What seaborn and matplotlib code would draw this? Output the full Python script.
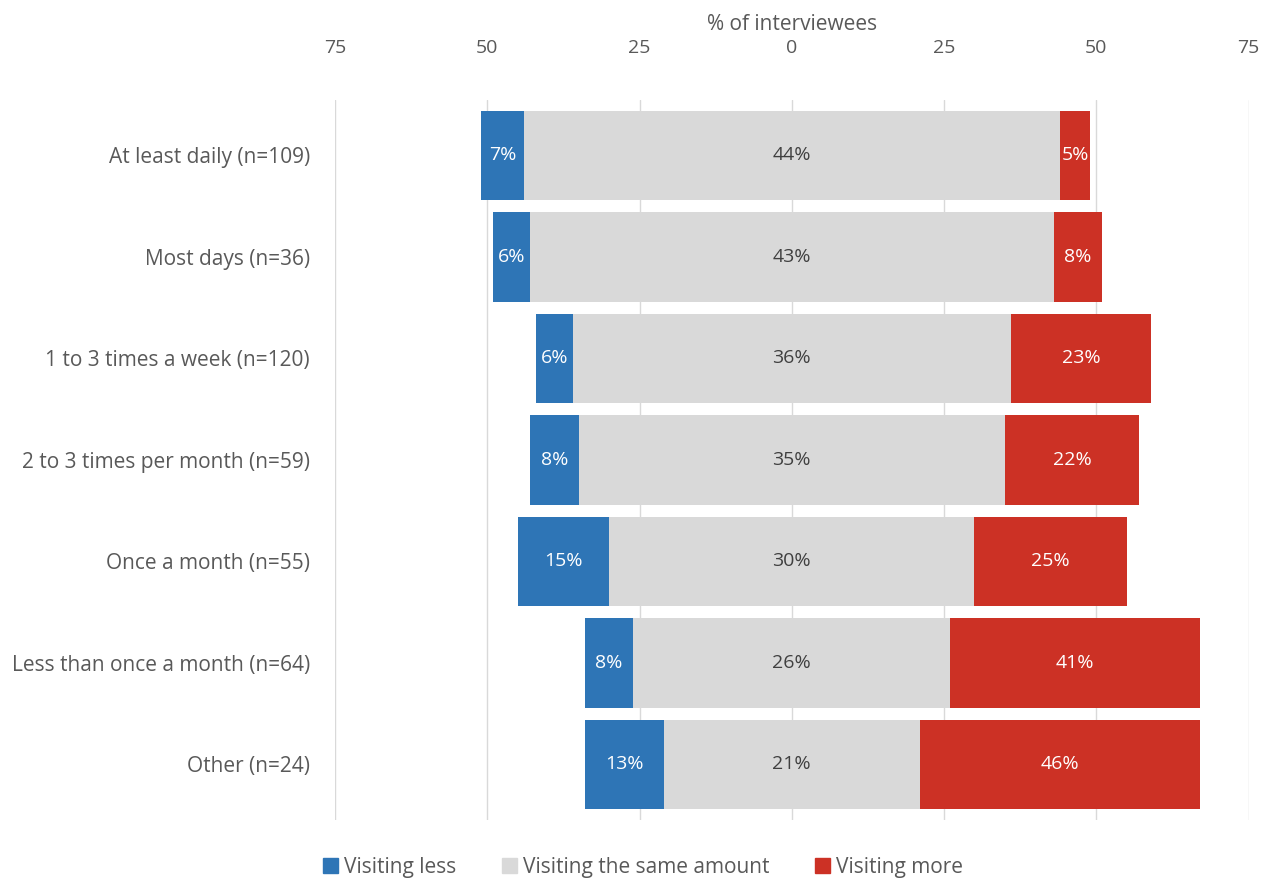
import numpy as np
import pandas as pd
import matplotlib
matplotlib.use("Agg")
import matplotlib.pyplot as plt
from matplotlib.patches import Patch
import seaborn as sns

categories = ["At least daily (n=109)", "Most days (n=36)", "1 to 3 times a week (n=120)",
              "2 to 3 times per month (n=59)", "Once a month (n=55)",
              "Less than once a month (n=64)", "Other (n=24)"]
less = [7, 6, 6, 8, 15, 8, 13]
same = [44, 43, 36, 35, 30, 26, 21]
more = [5, 8, 23, 22, 25, 41, 46]
ticks = [-75, -50, -25, 0, 25, 50, 75]

BLUE = "#2E75B6"
GREY = "#D9D9D9"
RED = "#CC3125"
TXT = "#595959"

df = pd.DataFrame({"cat": categories, "less": less, "same": same, "more": more})
df["left_end"] = -(df["same"] + df["less"])
df["right_end"] = df["same"] + df["more"]
df["same_neg"] = -df["same"]

sns.set_style("white")
plt.rcParams["font.family"] = ["Open Sans", "DejaVu Sans"]

fig = plt.figure(figsize=(12.74, 8.82), dpi=100)
ax = fig.add_axes([0.263, 0.070, 0.717, 0.817])

w = 0.88
# outer extents first, grey drawn over them from the centre
for col, c, z in [("right_end", RED, 2), ("left_end", BLUE, 2),
                  ("same", GREY, 3), ("same_neg", GREY, 3)]:
    sns.barplot(data=df, x=col, y="cat", orient="h", color=c, width=w,
                saturation=1, linewidth=0, ax=ax, zorder=z)

fs = 14
for i, r in df.iterrows():
    ax.text(-(r["same"] + r["less"] / 2), i, f"{r['less']}%", ha="center", va="center",
            color="white", fontsize=fs, zorder=5)
    ax.text(0, i, f"{r['same']}%", ha="center", va="center",
            color="#404040", fontsize=fs, zorder=5)
    ax.text(r["same"] + r["more"] / 2, i, f"{r['more']}%", ha="center", va="center",
            color="white", fontsize=fs, zorder=5)

ax.set_xlim(-75, 75)
ax.set_ylim(6.55, -0.55)
ax.set_xticks(ticks)
ax.set_xticklabels([str(abs(t)) for t in ticks])
ax.xaxis.tick_top()
ax.xaxis.set_label_position("top")
ax.set_xlabel("% of interviewees", fontsize=15, color=TXT, labelpad=6)
ax.set_ylabel("")
ax.tick_params(axis="x", length=0, labelsize=14, labelcolor=TXT, pad=31)
ax.tick_params(axis="y", length=0, labelsize=15, labelcolor=TXT, pad=18)
ax.grid(axis="x", color="#D9D9D9", linewidth=1, zorder=0)
ax.set_axisbelow(True)
for s in ax.spines.values():
    s.set_visible(False)

handles = [Patch(color=BLUE, label="Visiting less"),
           Patch(color=GREY, label="Visiting the same amount"),
           Patch(color=RED, label="Visiting more")]
fig.legend(handles=handles, loc="center", bbox_to_anchor=(0.505, 0.017), ncol=3,
           frameon=False, fontsize=15, labelcolor=TXT, handlelength=0.7,
           handleheight=0.7, handletextpad=0.3, columnspacing=2.2)

fig.savefig("out.png", dpi=100)
